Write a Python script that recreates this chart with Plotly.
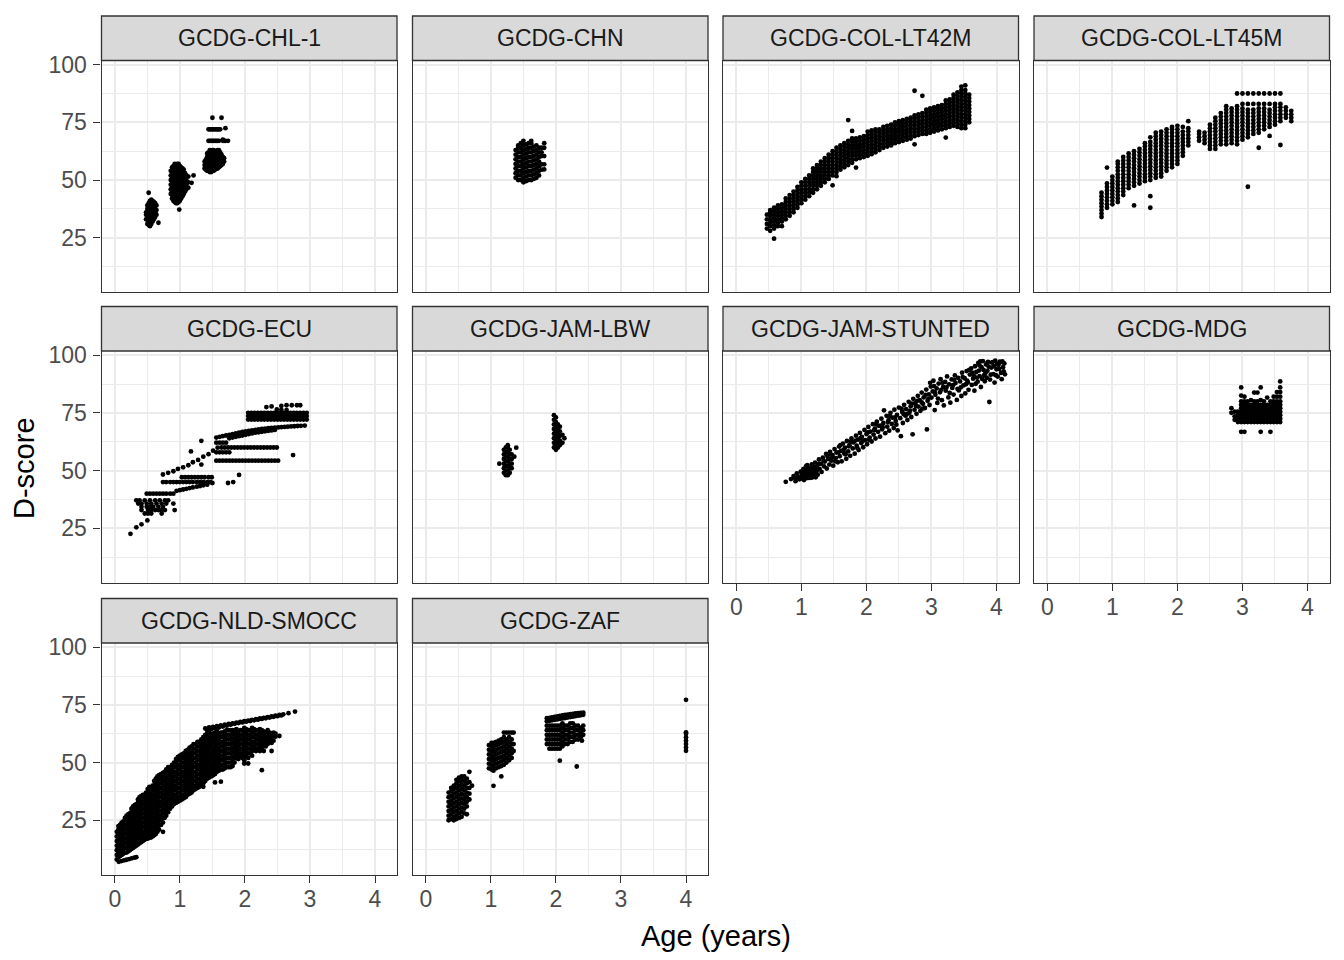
import plotly.graph_objects as go

# ---------------- labels / scales ----------------
PANEL_NAMES = ["GCDG-CHL-1", "GCDG-CHN", "GCDG-COL-LT42M", "GCDG-COL-LT45M",
               "GCDG-ECU", "GCDG-JAM-LBW", "GCDG-JAM-STUNTED", "GCDG-MDG",
               "GCDG-NLD-SMOCC", "GCDG-ZAF"]
X_TICKS = [0, 1, 2, 3, 4]
X_MINOR = [0.5, 1.5, 2.5, 3.5]
Y_TICKS = [25, 50, 75, 100]
Y_MINOR = [12.5, 37.5, 62.5, 87.5]
X_TITLE = "Age (years)"
Y_TITLE = "D-score"

# ---------------- data ----------------
# (age, [D-scores]) columns
CHL1 = [
    (0.48, [33, 35, 36]),
    (0.50, [31, 33, 34.5, 36, 37.5, 39]),
    (0.52, [30.5, 32, 34, 35.5, 37, 38.5, 40, 44.5]),
    (0.54, [30, 31.5, 33, 35, 36.5, 38, 39.5, 41]),
    (0.56, [31, 32.5, 34, 36, 37.5, 39, 40.5, 41.5]),
    (0.58, [32, 34, 35.5, 37, 38.5, 40, 41]),
    (0.60, [33, 35, 36.5, 38, 39.5, 40.5]),
    (0.62, [34, 36, 37.5, 39, 40]),
    (0.64, [35, 37, 39]),
    (0.67, [31.5]),
    (0.86, [44, 46, 48, 50, 52, 54]),
    (0.88, [42, 43.5, 45, 46.5, 48, 49.5, 51, 52.5, 54, 55.5]),
    (0.90, [41, 42.5, 44, 45.5, 47, 48.5, 50, 51.5, 53, 54.5, 56]),
    (0.92, [40.5, 42, 43.5, 45, 46.5, 48, 49.5, 51, 52.5, 54, 55.5, 57]),
    (0.94, [40, 41.5, 43, 44.5, 46, 47.5, 49, 50.5, 52, 53.5, 55, 56.5]),
    (0.96, [40, 41.5, 43, 44.5, 46, 47.5, 49, 50.5, 52, 53.5, 55, 56.5, 57]),
    (0.98, [40.5, 42, 43.5, 45, 46.5, 48, 49.5, 51, 52.5, 54, 55.5, 57]),
    (0.99, [37.2]),
    (1.00, [41, 42.5, 44, 45.5, 47, 48.5, 50, 51.5, 53, 54.5, 56]),
    (1.02, [42, 43.5, 45, 46.5, 48, 49.5, 51, 52.5, 54, 55.5]),
    (1.04, [43, 44.5, 46, 47.5, 49, 50.5, 52, 53.5, 55]),
    (1.06, [44, 45.5, 47, 48.5, 50, 51.5, 53, 54.5]),
    (1.08, [45, 47, 48.5, 50, 51.5, 53]),
    (1.10, [46, 48, 50, 52]),
    (1.13, [46.7, 49, 51.5]),
    (1.18, [48.8]),
    (1.21, [52]),
    (1.38, [55, 56.5, 58]),
    (1.40, [54.5, 56, 57.5, 59]),
    (1.42, [54, 55.5, 57, 58.5, 60, 61.5]),
    (1.44, [54, 55.5, 57, 58.5, 60, 62, 67, 72]),
    (1.46, [53.5, 55, 56.5, 58, 59.5, 61, 63, 67, 72]),
    (1.48, [53.5, 55, 56.5, 58, 59.5, 61, 62.5, 67, 72]),
    (1.50, [54, 55.5, 57, 58.5, 60, 61.5, 63, 67, 72, 77]),
    (1.52, [54, 55.5, 57, 58.5, 60, 61.5, 63, 67, 72]),
    (1.54, [54.5, 56, 57.5, 59, 60.5, 62, 67, 72]),
    (1.56, [55, 56.5, 58, 59.5, 61, 62.5, 67, 72]),
    (1.58, [55, 56.5, 58, 59.5, 61, 63, 67, 72]),
    (1.60, [55.5, 57, 58.5, 60, 61.5, 63, 67, 72]),
    (1.62, [56, 57.5, 59, 60.5, 62, 72]),
    (1.64, [56.5, 58, 59.5, 61, 77]),
    (1.66, [57, 58.5, 60, 67, 67.5]),
    (1.68, [58, 59.5, 67]),
    (1.70, [72.5, 67]),
    (1.74, [67]),
]

CHN = [
    (1.38, [51, 53, 55, 57, 59, 61, 63]),
    (1.42, [50, 52, 54, 56, 58, 60, 62, 64, 65]),
    (1.46, [50, 52, 54, 56, 58, 60, 62, 64, 66]),
    (1.50, [49, 51, 53, 55, 57, 59, 61, 63, 65, 67]),
    (1.54, [49.5, 51.5, 53.5, 55.5, 57.5, 59.5, 61.5, 63.5, 65.5]),
    (1.58, [50, 52, 54, 56, 58, 60, 62, 64, 66]),
    (1.62, [50, 52, 54, 56, 58, 60, 62, 64, 66, 67]),
    (1.66, [50.5, 52.5, 54.5, 56.5, 58.5, 60.5, 62.5, 64.5]),
    (1.70, [51, 53, 55, 57, 59, 61, 63, 65]),
    (1.74, [52, 54, 56, 58, 60, 62, 64]),
    (1.78, [54.5, 56.8, 60.4, 62, 64]),
    (1.82, [54.6, 56.8, 60.4, 64, 66]),
]

COL42 = [
    (0.47, [29, 31, 33, 35]),
    (0.52, [28, 30, 31.5, 33, 34.5, 36, 37]),
    (0.58, [24.6, 29, 30.5, 32, 33.5, 35, 36.5, 38]),
    (0.64, [30, 31.5, 33, 34.5, 36, 37.5, 39]),
    (0.70, [30, 32, 33.5, 35, 36.5, 38, 39.5]),
    (0.76, [33, 34.5, 36, 37.5, 39, 40.5, 42]),
    (0.82, [34.5, 36, 37.5, 39, 40.5, 42, 43.5]),
    (0.88, [36, 37.5, 39, 40.5, 42, 43.5, 45]),
    (0.94, [38, 39.5, 41, 42.5, 44, 45.5, 47]),
    (1.00, [40, 41.5, 43, 44.5, 46, 47.5, 49]),
    (1.06, [41.5, 43, 44.5, 46, 47.5, 49, 50.5]),
    (1.12, [43, 44.5, 46, 47.5, 49, 50.5, 52]),
    (1.18, [44.5, 46, 47.5, 49, 50.5, 52, 53.5, 55]),
    (1.24, [46, 47.5, 49, 50.5, 52, 53.5, 55, 56.5]),
    (1.30, [47.5, 49, 50.5, 52, 53.5, 55, 56.5, 58]),
    (1.36, [49, 50.5, 52, 53.5, 55, 56.5, 58, 59.5]),
    (1.42, [50.5, 52, 53.5, 55, 56.5, 58, 59.5, 61]),
    (1.48, [47.7, 52, 53.5, 55, 56.5, 58, 59.5, 61, 62.5]),
    (1.54, [51.7, 53.5, 55, 56.5, 58, 59.5, 61, 62.5, 64]),
    (1.60, [54.5, 56, 57.5, 59, 60.5, 62, 63.5, 65]),
    (1.66, [55.5, 57, 58.5, 60, 61.5, 63, 64.5, 66]),
    (1.72, [56.5, 58, 59.5, 61, 62.5, 64, 65.5, 67, 76]),
    (1.78, [57.5, 59, 60.5, 62, 63.5, 65, 66.5, 68, 71.3]),
    (1.84, [55.4, 59, 60.5, 62, 63.5, 65, 66.5, 68]),
    (1.90, [59.5, 61, 62.5, 64, 65.5, 67, 68.5]),
    (1.96, [60, 61.5, 63, 64.5, 66, 67.5, 69]),
    (2.02, [60.5, 62, 63.5, 65, 66.5, 68, 69.5, 71]),
    (2.08, [61.2, 62.5, 64, 65.5, 67, 68.5, 70, 71.5]),
    (2.14, [62, 63.5, 65, 66.5, 68, 69.5, 71, 72]),
    (2.20, [63, 64.5, 66, 67.5, 69, 70.5, 72]),
    (2.26, [64, 65.5, 67, 68.5, 70, 71.5, 73]),
    (2.32, [64.5, 66, 67.5, 69, 70.5, 72, 73.5]),
    (2.38, [65, 66.5, 68, 69.5, 71, 72.5, 74]),
    (2.44, [66, 67.5, 69, 70.5, 72, 73.5, 75]),
    (2.50, [66.5, 68, 69.5, 71, 72.5, 74, 75.5]),
    (2.56, [67, 68.5, 70, 71.5, 73, 74.5, 76]),
    (2.62, [67.5, 69, 70.5, 72, 73.5, 75, 76.5]),
    (2.68, [68, 69.5, 71, 72.5, 74, 75.5, 77]),
    (2.74, [65.5, 69, 70.5, 72, 73.5, 75, 76.5, 78, 88.7]),
    (2.80, [69.5, 71, 72.5, 74, 75.5, 77, 78.5]),
    (2.86, [70, 71.5, 73, 74.5, 76, 77.5, 79, 86.5]),
    (2.92, [70, 71.5, 73, 74.5, 76, 77.5, 79, 80.5]),
    (2.98, [70.5, 72, 73.5, 75, 76.5, 78, 79.5, 81]),
    (3.04, [71, 72.5, 74, 75.5, 77, 78.5, 80, 81.5]),
    (3.10, [71.5, 73, 74.5, 76, 77.5, 79, 80.5, 82]),
    (3.16, [72, 73.5, 75, 76.5, 78, 79.5, 81, 82.5]),
    (3.22, [68.4, 72.5, 74, 75.5, 77, 78.5, 80, 81.5, 83, 84.5]),
    (3.28, [73, 74.5, 76, 77.5, 79, 80.5, 82, 83.5, 85]),
    (3.34, [73.5, 75, 76.5, 78, 79.5, 81, 82.5, 84, 85.5, 87]),
    (3.40, [73, 74.5, 76, 77.5, 79, 80.5, 82, 83.5, 85, 86.5, 88]),
    (3.46, [72.5, 74, 75.5, 77, 78.5, 80, 81.5, 83, 84.5, 86, 87.5, 89, 90.5]),
    (3.52, [72.5, 74, 75.5, 77, 78.5, 80, 81.5, 83, 84.5, 86, 87.5, 89, 91]),
    (3.58, [75, 76.5, 78, 79.5, 81, 82.5, 84, 85.5, 87]),
]

COL45 = [
    (0.833, [34, 35.5, 37, 38.5, 40, 41.5, 43, 44.5]),
    (0.917, [38, 39.5, 41, 42.5, 44, 45.5, 47, 48.5, 55.4]),
    (1.000, [39.5, 41, 42.5, 44, 45.5, 47, 48.5, 50, 51.5]),
    (1.083, [40.5, 42, 43.5, 45, 46.5, 48, 49.5, 51, 52.5, 54, 55.5, 57, 58]),
    (1.167, [43.5, 45, 46.5, 48, 49.5, 51, 52.5, 54, 55.5, 57, 58.5, 60]),
    (1.250, [46.5, 48, 49.5, 51, 52.5, 54, 55.5, 57, 58.5, 60, 61.5]),
    (1.333, [39, 47.5, 49, 50.5, 52, 53.5, 55, 56.5, 58, 59.5, 61, 62.5]),
    (1.417, [48.5, 50, 51.5, 53, 54.5, 56, 57.5, 59, 60.5, 62, 63.5]),
    (1.500, [49.5, 51, 52.5, 54, 55.5, 57, 58.5, 60, 61.5, 63, 64.5, 66]),
    (1.583, [38, 43, 50, 51.5, 53, 54.5, 56, 57.5, 59, 60.5, 62, 63.5, 65, 66.5, 68.5]),
    (1.667, [51, 52.5, 54, 55.5, 57, 58.5, 60, 61.5, 63, 64.5, 66, 67.5, 69, 70.5]),
    (1.750, [51.5, 53, 54.5, 56, 57.5, 59, 60.5, 62, 63.5, 65, 66.5, 68, 69.5, 71]),
    (1.833, [54, 55.5, 57, 58.5, 60, 61.5, 63, 64.5, 66, 67.5, 69, 70.5, 72]),
    (1.917, [55.5, 57, 58.5, 60, 61.5, 63, 64.5, 66, 67.5, 69, 70.5, 72, 73]),
    (2.000, [57, 58.5, 60, 61.5, 63, 64.5, 66, 67.5, 69, 70.5, 72, 73.5]),
    (2.083, [60.5, 62, 63.5, 65, 66.5, 68, 69.5, 71, 73]),
    (2.167, [65, 66.5, 68, 69.5, 71, 72.5, 75.5]),
    (2.333, [67, 68.5, 70, 71]),
    (2.417, [66, 67.5, 69, 70.5]),
    (2.500, [63.5, 65, 66.5, 68, 69.5, 71, 72.5, 74]),
    (2.583, [63.5, 65, 66.5, 68, 69.5, 71, 72.5, 74, 75.5, 77]),
    (2.667, [65.5, 67, 68.5, 70, 71.5, 73, 74.5, 76, 77.5, 79]),
    (2.750, [65.5, 67, 68.5, 70, 71.5, 73, 74.5, 76, 77.5, 79, 80.5, 82]),
    (2.833, [66, 67.5, 69, 70.5, 72, 73.5, 75, 76.5, 78, 79.5, 81]),
    (2.917, [65.5, 67, 68.5, 70, 71.5, 73, 74.5, 76, 77.5, 79, 80.5, 82, 87.5]),
    (3.000, [67.5, 69, 70.5, 72, 73.5, 75, 76.5, 78, 79.5, 81, 83, 87.5]),
    (3.083, [47.1, 68.5, 70, 71.5, 73, 74.5, 76, 77.5, 79, 80.5, 83, 87.5]),
    (3.167, [70, 71.5, 73, 74.5, 76, 77.5, 79, 80.5, 83, 87.5]),
    (3.250, [64, 70.5, 72, 73.5, 75, 76.5, 78, 79.5, 81, 83, 87.5]),
    (3.333, [72, 73.5, 75, 76.5, 78, 79.5, 81, 83, 87.5]),
    (3.417, [69.1, 73, 74.5, 76, 77.5, 79, 80.5, 83, 87.5]),
    (3.500, [74, 75.5, 77, 78.5, 80, 81.5, 83, 87.5]),
    (3.583, [65.2, 75.5, 77, 78.5, 80, 81.5, 83, 87.5]),
    (3.667, [77, 78.5, 80, 81.5]),
    (3.750, [75.5, 77, 78.5, 80]),
]

# ECU is organised in rows: (D-score, [ages])
ECU_ROWS = [
    (37.1, [0.33, 0.38, 0.46, 0.54, 0.62, 0.69, 0.77, 0.82]),
    (35.7, [0.36, 0.41, 0.49, 0.56, 0.64, 0.72, 0.79, 0.90]),
    (34.3, [0.41, 0.49, 0.54, 0.59, 0.67, 0.74]),
    (32.9, [0.41, 0.51, 0.56, 0.62, 0.67, 0.72, 0.77, 0.92]),
    (31.4, [0.46, 0.51, 0.56, 0.72]),
    (40.0, [0.49, 0.54, 0.59, 0.64, 0.69, 0.74, 0.79, 0.85, 0.90]),
    (45.0, [0.74, 0.79, 0.85, 0.90, 0.95, 1.00, 1.05, 1.10, 1.15, 1.20, 1.26, 1.31, 1.36, 1.42, 1.47]),
    (47.1, [1.03, 1.08, 1.13, 1.18, 1.23, 1.28, 1.33, 1.38, 1.44, 1.49]),
    (54.3, [1.56, 1.61, 1.66, 1.71, 1.76, 1.81, 1.86, 1.91, 1.96, 2.01, 2.06, 2.11, 2.16, 2.21,
            2.26, 2.31, 2.36, 2.41, 2.46, 2.51]),
    (60.0, [1.64, 1.69, 1.74, 1.79, 1.84, 1.89, 1.94, 1.99, 2.04, 2.09, 2.14, 2.19, 2.24, 2.29,
            2.34, 2.39, 2.44, 2.49]),
    (57.9, [1.56, 1.61, 1.66, 1.71, 1.76]),
    (62.1, [1.56, 1.61, 1.66, 1.71]),
    (75.0, [2.05, 2.10, 2.15, 2.20, 2.25, 2.30, 2.35, 2.40, 2.45, 2.50, 2.55, 2.60, 2.65, 2.70,
            2.75, 2.80, 2.85, 2.90, 2.95]),
    (73.6, [2.05, 2.10, 2.15, 2.20, 2.25, 2.30, 2.35, 2.40, 2.45, 2.50, 2.55, 2.60, 2.65, 2.70,
            2.75, 2.80, 2.85, 2.90, 2.95]),
    (72.1, [2.05, 2.10, 2.15, 2.20, 2.25, 2.30, 2.35, 2.40, 2.45, 2.50, 2.55, 2.60, 2.65, 2.70,
            2.75, 2.80, 2.85, 2.90, 2.95]),
]
ECU_POINTS = [
    (0.24, 22.6), (0.33, 25.4), (0.41, 26.7), (0.50, 28.4),
    (0.95, 41.2), (1.00, 41.5), (1.05, 41.8), (1.10, 42.1), (1.15, 42.4), (1.20, 42.7),
    (1.26, 43.0), (1.31, 43.3), (1.36, 43.6), (1.42, 43.9),
    (0.74, 48.3), (0.82, 49.0), (0.90, 49.7), (0.97, 50.7), (1.05, 51.4), (1.13, 52.3),
    (1.20, 53.6), (1.28, 54.6), (1.36, 56.0), (1.44, 57.1), (1.51, 58.6), (1.58, 59.9),
    (1.17, 58.3), (1.33, 62.9), (1.33, 52.6), (1.50, 44.6), (1.74, 44.6), (1.82, 45.0),
    (1.91, 48.1), (2.74, 56.7),
    (1.56, 64.3), (1.61, 64.6), (1.66, 64.9), (1.71, 65.2), (1.76, 65.5), (1.81, 65.8),
    (1.86, 66.1), (1.91, 66.4), (1.96, 66.7), (2.01, 67.0), (2.06, 67.2), (2.11, 67.4),
    (2.16, 67.6), (2.21, 67.8), (2.26, 68.0), (2.31, 68.2), (2.36, 68.4), (2.41, 68.5),
    (2.46, 68.6), (2.51, 68.7), (2.56, 68.8), (2.61, 68.9), (2.66, 69.0), (2.71, 69.1),
    (2.76, 69.2), (2.81, 69.3), (2.86, 69.4), (2.92, 69.5),
    (1.76, 64.0), (1.81, 64.3), (1.86, 64.6), (1.91, 64.9), (1.96, 65.2), (2.01, 65.5),
    (2.06, 65.8), (2.11, 66.1), (2.16, 66.4), (2.21, 66.6), (2.26, 66.8), (2.31, 67.0),
    (2.36, 67.2), (2.41, 67.4), (2.46, 67.6),
    (2.33, 77.5), (2.41, 77.8), (2.56, 78.0), (2.64, 78.3), (2.72, 78.3), (2.80, 78.3),
    (2.85, 78.3), (2.49, 76.5), (2.56, 76.3), (2.64, 76.2),
]

JAMLBW = [
    (1.13, [53]),
    (1.20, [49, 51, 53, 55, 57, 59]),
    (1.23, [48, 50, 52, 54, 56, 58, 60]),
    (1.26, [48, 50, 52, 54, 56, 58, 60, 61]),
    (1.29, [49, 51, 53, 55, 57, 59]),
    (1.32, [51, 53, 55, 57]),
    (1.36, [56]),
    (1.39, [59.9]),
    (1.97, [60, 62, 64, 66, 68, 70, 72, 74]),
    (2.00, [59, 61, 63, 65, 67, 69, 71, 73]),
    (2.03, [60, 62, 64, 66, 68, 70]),
    (2.06, [61, 63, 65, 67, 69]),
    (2.10, [62, 65.5]),
    (2.13, [64]),
]

# JAM-STUNTED: individual (age, D-score) points
JAMST = [
    (0.76, 45.1), (0.84, 46.3), (0.88, 47.6), (0.91, 45.4), (0.93, 48.8), (0.97, 46.2),
    (0.99, 49.5), (1.01, 47.3), (1.03, 50.6), (1.04, 45.9), (1.06, 48.1), (1.07, 51.8),
    (1.09, 47.0), (1.11, 49.6), (1.12, 46.8), (1.13, 50.9), (1.15, 48.3), (1.16, 52.7),
    (1.18, 47.9), (1.19, 50.2), (1.21, 53.4), (1.22, 49.0), (1.24, 51.6), (1.25, 48.2),
    (1.27, 54.8), (1.28, 50.7), (1.30, 52.9), (1.31, 49.4), (1.33, 55.6), (1.35, 51.8),
    (1.36, 53.9), (1.38, 57.2), (1.39, 50.9), (1.41, 55.0), (1.43, 52.6), (1.44, 58.1),
    (1.46, 54.3), (1.48, 56.7), (1.49, 52.1), (1.51, 59.3), (1.53, 55.4), (1.54, 57.8),
    (1.56, 53.6), (1.58, 60.4), (1.59, 56.2), (1.61, 58.5), (1.62, 54.0), (1.64, 61.7),
    (1.66, 57.4), (1.67, 59.9), (1.69, 55.1), (1.70, 62.8), (1.72, 58.3), (1.74, 61.0),
    (1.75, 56.4), (1.77, 63.9), (1.79, 59.6), (1.80, 62.2), (1.82, 57.3), (1.84, 65.1),
    (1.85, 60.8), (1.87, 63.4), (1.88, 58.9), (1.90, 66.3), (1.92, 61.9), (1.93, 64.6),
    (1.95, 60.1), (1.97, 67.6), (1.98, 63.2), (2.00, 65.8), (2.01, 61.4), (2.03, 68.9),
    (2.05, 64.3), (2.06, 66.9), (2.08, 62.6), (2.10, 70.1), (2.11, 65.6), (2.13, 68.2),
    (2.14, 63.9), (2.16, 71.2), (2.18, 66.8), (2.19, 69.4), (2.21, 64.7), (2.23, 72.5),
    (2.24, 67.9), (2.26, 70.6), (2.27, 76.1), (2.29, 66.2), (2.31, 73.7), (2.32, 69.0),
    (2.34, 71.8), (2.35, 67.3), (2.37, 75.0), (2.39, 70.2), (2.40, 72.9), (2.42, 68.4),
    (2.43, 76.4), (2.45, 71.5), (2.47, 74.1), (2.48, 67.4), (2.50, 77.3), (2.52, 72.7),
    (2.53, 64.9), (2.55, 75.4), (2.56, 70.6), (2.58, 78.5), (2.60, 73.8), (2.61, 76.6),
    (2.63, 71.9), (2.65, 79.8), (2.66, 75.0), (2.68, 77.9), (2.69, 73.2), (2.71, 65.7),
    (2.72, 81.1), (2.74, 76.3), (2.75, 79.2), (2.77, 74.6), (2.79, 82.4), (2.80, 77.7),
    (2.82, 80.5), (2.83, 75.9), (2.85, 83.8), (2.87, 78.9), (2.88, 81.7), (2.90, 77.1),
    (2.92, 85.1), (2.93, 67.8), (2.94, 80.2), (2.96, 83.0), (2.97, 78.4), (2.99, 86.4),
    (3.00, 81.6), (3.02, 84.3), (3.03, 88.9), (3.05, 76.2), (3.06, 82.8), (3.08, 85.6),
    (3.09, 79.3), (3.11, 87.7), (3.13, 83.9), (3.14, 89.6), (3.16, 80.5), (3.18, 86.2),
    (3.19, 78.2), (3.21, 88.4), (3.22, 84.6), (3.24, 90.8), (3.26, 81.7), (3.27, 87.3),
    (3.29, 79.4), (3.31, 89.5), (3.32, 85.8), (3.34, 82.9), (3.36, 91.2), (3.37, 87.9),
    (3.39, 80.6), (3.41, 90.1), (3.42, 84.7), (3.44, 88.6), (3.46, 82.3), (3.47, 92.4),
    (3.49, 86.9), (3.51, 90.0), (3.52, 83.4), (3.54, 93.1), (3.56, 88.2), (3.57, 85.0),
    (3.59, 91.6), (3.61, 94.3), (3.62, 87.1), (3.64, 89.8), (3.66, 84.6), (3.67, 95.2),
    (3.69, 92.7), (3.71, 88.5), (3.72, 96.6), (3.74, 90.9), (3.76, 86.2), (3.77, 94.8),
    (3.79, 97.4), (3.81, 91.3), (3.82, 88.7), (3.84, 95.9), (3.86, 93.2), (3.87, 97.1),
    (3.89, 79.7), (3.90, 89.4), (3.92, 94.6), (3.93, 96.8), (3.95, 91.8), (3.97, 88.1),
    (3.98, 97.6), (4.00, 93.9), (4.02, 90.7), (4.03, 95.7), (4.05, 97.2), (4.07, 92.3),
    (4.08, 89.6), (4.10, 94.8), (4.12, 96.4), (4.13, 91.7), (3.74, 95.5), (3.80, 93.6),
    (3.96, 95.2), (4.06, 96.9), (3.70, 90.3), (3.85, 90.2), (3.33, 87.0), (3.45, 86.0),
    (3.55, 89.0), (3.65, 91.0), (3.15, 85.0), (3.05, 84.0), (2.95, 81.0), (2.85, 79.5),
    (1.05, 48.6), (1.15, 50.5), (1.02, 49.0), (1.10, 51.3), (1.20, 51.5), (1.26, 52.8),
    (1.34, 54.1), (1.40, 56.3), (1.47, 55.5), (1.57, 57.9), (1.65, 59.0), (1.73, 60.5),
    (1.83, 63.0), (1.91, 64.0), (2.02, 66.5), (2.12, 67.5), (2.22, 69.5), (2.33, 71.0),
    (2.44, 73.0), (2.57, 74.5), (2.67, 76.0), (2.76, 78.0),
    (1.00, 47.8), (1.02, 46.4), (1.04, 48.9), (1.06, 50.2), (1.08, 46.7), (1.10, 48.9),
    (1.12, 47.6), (1.14, 49.8), (1.16, 46.9), (1.18, 51.4), (1.20, 49.3), (1.22, 47.1),
    (1.24, 50.0), (1.09, 52.3), (0.95, 47.2), (0.90, 46.8),
    (1.45, 57.0), (1.52, 54.0), (1.60, 61.0), (1.68, 57.0), (1.76, 62.5), (1.86, 59.8),
    (1.94, 62.7), (2.04, 63.3), (2.15, 70.0), (2.25, 68.8), (2.36, 73.6), (2.46, 69.9),
    (2.54, 76.8), (2.62, 74.4), (2.70, 79.0), (2.78, 80.2), (2.86, 76.8), (2.91, 82.8),
    (2.98, 88.0), (3.04, 86.6), (3.10, 81.2), (3.17, 88.0), (3.23, 86.0), (3.28, 83.6),
    (3.35, 89.3), (3.40, 85.4), (3.48, 90.5), (3.53, 87.4), (3.58, 93.6), (3.63, 92.4),
    (3.68, 87.6), (3.73, 93.3), (3.78, 89.7), (3.83, 92.3), (3.88, 95.0), (3.91, 91.5),
    (3.94, 97.0), (3.99, 91.3), (4.04, 94.0), (4.09, 97.3), (4.11, 93.0), (3.75, 97.3),
    (3.86, 96.6), (4.01, 96.2),
]

MDG = [
    (2.83, [75, 77]),
    (2.88, [72, 73.5, 75.5]),
    (2.93, [71, 72.5, 74, 75.5]),
    (2.98, [66.8, 71, 72.5, 74, 75.5, 77, 78.5, 80, 82.5, 86]),
    (3.03, [66.8, 71, 72.5, 74, 75.5, 77, 78.5, 80, 82]),
    (3.08, [71, 72.5, 74, 75.5, 77, 78.5, 80]),
    (3.13, [71, 72.5, 74, 75.5, 77, 78.5, 80.5]),
    (3.18, [71, 72.5, 74, 75.5, 77, 78.5, 80, 83.8]),
    (3.23, [71, 72.5, 74, 75.5, 77, 78.5, 80, 83.8]),
    (3.28, [66.8, 71, 72.5, 74, 75.5, 77, 78.5, 80.5, 86]),
    (3.33, [71, 72.5, 74, 75.5, 77, 78.5, 80]),
    (3.38, [71, 72.5, 74, 75.5, 77, 78.5, 81.6]),
    (3.43, [66.8, 71, 72.5, 74, 75.5, 77, 78.5, 80]),
    (3.48, [71, 72.5, 74, 75.5, 77, 78.5, 80, 82]),
    (3.53, [71, 72.5, 74, 75.5, 77, 78.5, 80, 82, 84]),
    (3.58, [71, 72.5, 74, 75.5, 77, 78.5, 80, 82, 84, 86, 88.6]),
]

NLD = [
    (0.03, [8, 10, 12, 14, 16, 18, 20]),
    (0.06, [7]), (0.10, [7.3]), (0.14, [7.6]), (0.18, [7.9]), (0.22, [8.2]),
    (0.26, [8.5]), (0.30, [8.8]), (0.33, [9]),
    (0.08, [9.5, 11.5, 13.5, 15.5, 17.5, 19.5, 21.5, 23]),
    (0.13, [10.5, 12.5, 14.5, 16.5, 18.5, 20.5, 22.5, 24.5]),
    (0.18, [11, 13, 15, 17, 19, 21, 23, 25, 27]),
    (0.23, [12, 14, 16, 18, 20, 22, 24, 26, 28]),
    (0.28, [13, 15, 17, 19, 21, 23, 25, 27, 29, 31]),
    (0.33, [14, 16, 18, 20, 22, 24, 26, 28, 30, 32]),
    (0.38, [15, 17, 19, 21, 23, 25, 27, 29, 31, 33, 35]),
    (0.43, [16, 18, 20, 22, 24, 26, 28, 30, 32, 34, 36]),
    (0.48, [17, 19, 21, 23, 25, 27, 29, 31, 33, 35, 37]),
    (0.53, [17.5, 19.5, 21.5, 23.5, 25.5, 27.5, 29.5, 31.5, 33.5, 35.5, 37.5, 39.5]),
    (0.58, [18, 20, 22, 24, 26, 28, 30, 32, 34, 36, 38, 40]),
    (0.63, [19, 21, 23, 25, 27, 29, 31, 33, 35, 37, 39, 41, 43]),
    (0.68, [21, 23, 25, 27, 29, 31, 33, 35, 37, 39, 41, 43, 44.5]),
    (0.74, [20, 24, 26, 28, 30, 32, 34, 36, 38, 40, 42, 44, 45.5]),
    (0.79, [27, 29, 31, 33, 35, 37, 39, 41, 43, 45, 47]),
    (0.85, [30, 32, 34, 36, 38, 40, 42, 44, 46, 48]),
    (0.91, [32, 34, 36, 38, 40, 42, 44, 46, 48, 50]),
    (0.97, [33, 35, 37, 39, 41, 43, 45, 47, 49, 51, 52.5]),
    (1.03, [34, 36, 38, 40, 42, 44, 46, 48, 50, 52, 53.5]),
    (1.09, [35, 37, 39, 41, 43, 45, 47, 49, 51, 53, 55]),
    (1.15, [36.5, 38.5, 40.5, 42.5, 44.5, 46.5, 48.5, 50.5, 52.5, 54.5, 56.5]),
    (1.21, [38, 40, 42, 44, 46, 48, 50, 52, 54, 56, 58]),
    (1.27, [39, 41, 43, 45, 47, 49, 51, 53, 55, 57, 59]),
    (1.33, [40, 42, 44, 46, 48, 50, 52, 54, 56, 58, 60]),
    (1.36, [39.5]),
    (1.39, [42, 44, 46, 48, 50, 52, 54, 56, 58, 60, 62, 64.8]),
    (1.45, [43.5, 45.5, 47.5, 49.5, 51.5, 53.5, 55.5, 57.5, 59.5, 61.5, 63, 65.2]),
    (1.51, [44.5, 46.5, 48.5, 50.5, 52.5, 54.5, 56.5, 58.5, 60.5, 62.5, 65.5]),
    (1.54, [41.4]),
    (1.57, [46, 48, 50, 52, 54, 56, 58, 60, 62, 63.5, 65.8]),
    (1.63, [41.7, 47, 49, 51, 53, 55, 57, 59, 61, 63, 66.1]),
    (1.69, [47.5, 49.5, 51.5, 53.5, 55.5, 57.5, 59.5, 61.5, 63.5, 66.4]),
    (1.75, [48, 50, 52, 54, 56, 58, 60, 62, 64, 66.7]),
    (1.81, [48.5, 50.5, 52.5, 54.5, 56.5, 58.5, 60.5, 62.5, 64, 67]),
    (1.87, [51.8, 53, 55, 57, 59, 61, 63, 64.5, 67.3]),
    (1.93, [52.5, 54, 56, 58, 60, 62, 64, 67.6]),
    (1.99, [49.6, 51, 53, 55, 57, 59, 61, 63, 65, 67.9]),
    (2.05, [49.6, 52, 54, 56, 58, 60, 62, 64, 68.2]),
    (2.11, [53, 55, 57, 59, 61, 63, 65, 68.5]),
    (2.17, [55, 56, 58, 60, 62, 64, 68.8]),
    (2.23, [55, 57, 59, 61, 63, 64.5, 69.1]),
    (2.26, [46.7]),
    (2.29, [55, 57.5, 59.5, 61.5, 63.5, 69.4]),
    (2.35, [58, 60, 62, 64, 69.7]),
    (2.41, [55, 58.5, 60.5, 62.5, 70]),
    (2.47, [61.2, 62.5, 70.3]),
    (2.53, [61.5, 70.6]),
    (2.59, [70.9]),
    (2.67, [71.4]),
    (2.77, [72.1]),
]
# extra NLD-SMOCC columns read between the ones above (the band is solid black)
NLD_MID = [
    (0.055, [9, 11, 13, 15, 17, 19, 21, 22.5]),
    (0.105, [10, 12, 14, 16, 18, 20, 22, 24]),
    (0.155, [11, 13, 15, 17, 19, 21, 23, 25, 26]),
    (0.205, [11.5, 13.5, 15.5, 17.5, 19.5, 21.5, 23.5, 25.5, 27.5]),
    (0.255, [12.5, 14.5, 16.5, 18.5, 20.5, 22.5, 24.5, 26.5, 28.5, 30]),
    (0.305, [13.5, 15.5, 17.5, 19.5, 21.5, 23.5, 25.5, 27.5, 29.5, 31.5]),
    (0.355, [14.5, 16.5, 18.5, 20.5, 22.5, 24.5, 26.5, 28.5, 30.5, 32.5, 34]),
    (0.405, [15.5, 17.5, 19.5, 21.5, 23.5, 25.5, 27.5, 29.5, 31.5, 33.5, 35.5]),
    (0.455, [16.5, 18, 20, 22, 24, 26, 28, 30, 32, 34, 36]),
    (0.505, [17, 18.5, 20.5, 22.5, 24.5, 26.5, 28.5, 30.5, 32.5, 34.5, 36.5, 38.5]),
    (0.555, [17.5, 19, 21, 23, 25, 27, 29, 31, 33, 35, 37, 39]),
    (0.605, [18.5, 20, 22, 24, 26, 28, 30, 32, 34, 36, 38, 40, 42]),
    (0.655, [20, 22, 24, 26, 28, 30, 32, 34, 36, 38, 40, 42, 44]),
    (0.71, [23, 25, 27, 29, 31, 33, 35, 37, 39, 41, 43, 45]),
    (0.765, [26, 28, 30, 32, 34, 36, 38, 40, 42, 44, 46]),
    (0.82, [28.5, 30.5, 32.5, 34.5, 36.5, 38.5, 40.5, 42.5, 44.5, 46.5, 48]),
    (0.88, [31, 33, 35, 37, 39, 41, 43, 45, 47, 49]),
    (0.94, [32.5, 34, 36, 38, 40, 42, 44, 46, 48, 50, 51.5]),
    (1.00, [33.5, 35, 37, 39, 41, 43, 45, 47, 49, 51, 53]),
    (1.06, [34.5, 36, 38, 40, 42, 44, 46, 48, 50, 52, 54]),
    (1.12, [36, 37.5, 39.5, 41.5, 43.5, 45.5, 47.5, 49.5, 51.5, 53.5, 55.5]),
    (1.18, [37, 39, 41, 43, 45, 47, 49, 51, 53, 55, 57]),
    (1.24, [38.5, 40, 42, 44, 46, 48, 50, 52, 54, 56, 58]),
    (1.30, [39.5, 41, 43, 45, 47, 49, 51, 53, 55, 57, 59]),
    (1.36, [41, 43, 45, 47, 49, 51, 53, 55, 57, 59, 61]),
    (1.42, [43, 45, 47, 49, 51, 53, 55, 57, 59, 61, 62.5]),
    (1.48, [44, 46, 48, 50, 52, 54, 56, 58, 60, 62]),
    (1.54, [45, 47, 49, 51, 53, 55, 57, 59, 61, 63]),
    (1.60, [46.5, 48.5, 50.5, 52.5, 54.5, 56.5, 58.5, 60.5, 62.5]),
    (1.66, [47, 49, 51, 53, 55, 57, 59, 61, 63]),
    (1.72, [48, 50, 52, 54, 56, 58, 60, 62, 64]),
    (1.78, [48, 50, 52, 54, 56, 58, 60, 62, 64]),
    (1.84, [50, 52, 54, 56, 58, 60, 62, 64]),
    (1.90, [51.5, 53.5, 55.5, 57.5, 59.5, 61.5, 63.5]),
    (1.96, [52, 54, 56, 58, 60, 62, 64]),
    (2.02, [52.5, 54.5, 56.5, 58.5, 60.5, 62.5, 64.5]),
    (2.08, [54, 56, 58, 60, 62, 64]),
    (2.14, [55.5, 57, 59, 61, 63, 64.5]),
    (2.20, [56, 58, 60, 62, 64]),
    (2.26, [56, 58, 60, 62, 64]),
    (2.32, [57, 59, 61, 63]),
    (2.38, [59, 61, 63]),
    (2.44, [59.5, 61.5, 63]),
]
NLD_STREAK = [
    (1.42, 64.0), (1.48, 64.4), (1.54, 64.8), (1.60, 65.2), (1.66, 65.6), (1.72, 66.0),
    (1.78, 66.4), (1.84, 66.8), (1.90, 67.1), (1.96, 67.4), (2.02, 67.7), (2.08, 68.0),
    (2.14, 68.3), (2.20, 68.6), (2.26, 68.9), (2.32, 69.2), (2.38, 69.5), (2.44, 69.8),
    (2.50, 70.1), (2.56, 70.4),
]

ZAF = [
    (0.35, [25, 27, 29, 31, 33, 35, 37]),
    (0.39, [25.5, 27.5, 29.5, 31.5, 33.5, 35.5, 37.5, 39]),
    (0.43, [25, 26.5, 28.5, 30.5, 32.5, 34.5, 36.5, 38.5, 40]),
    (0.47, [25.5, 27, 29, 31, 33, 35, 37, 39, 41, 42.5]),
    (0.51, [26, 28, 30, 32, 34, 36, 38, 40, 42, 43.5]),
    (0.55, [26.5, 28.5, 30.5, 32.5, 34.5, 36.5, 38.5, 40.5, 42.5, 44]),
    (0.59, [28, 30, 32, 34, 36, 38, 40, 42, 44]),
    (0.63, [27.6, 31, 33, 35, 37, 39, 41, 43]),
    (0.67, [34, 36.5, 39, 41.5, 46]),
    (0.71, [40]),
    (0.97, [47.5, 49.5, 51.5, 53.5, 55.5, 57.5]),
    (1.01, [47, 49, 51, 53, 55, 57, 58.5]),
    (1.04, [39.9, 46.5, 48.5, 50.5, 52.5, 54.5, 56.5, 58.5]),
    (1.08, [47.5, 49.5, 51.5, 53.5, 55.5, 57.5, 59]),
    (1.12, [48, 50, 52, 54, 56, 58, 59.5]),
    (1.16, [44, 48.5, 50.5, 52.5, 54.5, 56.5, 58.5, 60]),
    (1.20, [49, 51, 53, 55, 57, 59, 61, 63]),
    (1.24, [50, 52, 54, 56, 58, 60, 63]),
    (1.28, [51, 53, 55, 57, 59, 61, 63]),
    (1.32, [52, 54, 56, 58, 60, 63]),
    (1.35, [55, 58, 63]),
    (1.86, [58, 60, 62, 64, 66, 67.9, 69.2]),
    (1.90, [56, 58, 60, 62, 64, 66, 68.1, 69.4]),
    (1.94, [56, 58, 60, 62, 64, 66, 68.3, 69.6]),
    (1.98, [56, 58, 60, 62, 64, 66, 68.5, 69.8]),
    (2.02, [56, 58, 60, 62, 64, 66, 68.7, 70.0]),
    (2.06, [50.8, 56, 58, 60, 62, 64, 66, 68.9, 70.2]),
    (2.10, [57, 59, 61, 63, 65, 67, 69.1, 70.4]),
    (2.14, [58, 60, 62, 64, 66, 69.3, 70.6]),
    (2.18, [58, 60, 62, 64, 66, 69.5, 70.8]),
    (2.22, [59, 61, 63, 65, 67, 69.7, 71.0]),
    (2.26, [59, 61, 63, 65, 67, 69.9, 71.1]),
    (2.30, [60, 62, 64, 66, 70.1, 71.3]),
    (2.32, [48.3]),
    (2.34, [60, 62, 64, 66, 70.3, 71.4]),
    (2.38, [61, 63, 65, 70.5, 71.5]),
    (2.40, [59.5]),
    (2.42, [62, 64, 66, 70.7, 71.6]),
    (4.00, [55.1, 56.5, 58, 59.5, 61, 62.5, 63.1, 77.2]),
]


def from_cols(cols):
    xs, ys = [], []
    for a, ds in cols:
        for d in ds:
            xs.append(a)
            ys.append(d)
    return xs, ys


def from_rows(rows):
    xs, ys = [], []
    for d, ages in rows:
        for a in ages:
            xs.append(a)
            ys.append(d)
    return xs, ys


def from_pts(pts):
    return [p[0] for p in pts], [p[1] for p in pts]


def join(*parts):
    xs, ys = [], []
    for px, py in parts:
        xs += px
        ys += py
    return xs, ys


PANEL_DATA = [
    from_cols(CHL1),
    from_cols(CHN),
    from_cols(COL42),
    from_cols(COL45),
    join(from_rows(ECU_ROWS), from_pts(ECU_POINTS)),
    from_cols(JAMLBW),
    from_pts(JAMST),
    from_cols(MDG),
    join(from_cols(NLD), from_cols(NLD_MID), from_pts(NLD_STREAK)),
    from_cols(ZAF),
]

# ---------------- layout geometry (pixels) ----------------
W, H = 1344, 960
COL_L = [101.5, 412.5, 723.0, 1034.0]
PW = 295.5
ROW_T = [60.5, 351.0, 643.0]
PH = 231.5
STRIP_H = 44.5
BOTTOM_IN_COL = {0: 8, 1: 9, 2: 6, 3: 7}

FONT = "Liberation Sans, Arial, Helvetica, sans-serif"
GRID = "#EBEBEB"
DARK = "#333333"

fig = go.Figure()
shapes, annotations = [], []
layout_axes = {}

for i, name in enumerate(PANEL_NAMES):
    r, c = divmod(i, 4)
    k = i + 1
    xs, ys = PANEL_DATA[i]
    fig.add_trace(go.Scatter(
        x=xs, y=ys, mode="markers", xaxis=f"x{k}", yaxis=f"y{k}",
        marker=dict(color="black", size=4.8, line=dict(width=0)),
        hoverinfo="skip", showlegend=False, cliponaxis=False))

    l = COL_L[c]
    t = ROW_T[r]
    x0, x1 = l / W, (l + PW) / W
    y0, y1 = 1 - (t + PH) / H, 1 - t / H
    show_x = BOTTOM_IN_COL[c] == i
    show_y = c == 0
    xa = dict(domain=[x0, x1], anchor=f"y{k}", range=[-0.205, 4.338],
              tickmode="array", tickvals=X_TICKS, ticktext=[str(v) for v in X_TICKS],
              showgrid=True, gridcolor=GRID, gridwidth=1.8,
              minor=dict(tickvals=X_MINOR, showgrid=True, gridcolor=GRID, gridwidth=0.9),
              zeroline=False, showline=True, mirror=True, linecolor=DARK, linewidth=1.3,
              ticks="outside" if show_x else "", ticklen=7, tickwidth=1.3, tickcolor=DARK,
              showticklabels=show_x, ticklabelstandoff=-3, automargin=False,
              tickfont=dict(family=FONT, size=23, color="#4D4D4D"), fixedrange=True)
    ya = dict(domain=[y0, y1], anchor=f"x{k}", range=[1.5, 101.8],
              tickmode="array", tickvals=Y_TICKS, ticktext=[str(v) for v in Y_TICKS],
              showgrid=True, gridcolor=GRID, gridwidth=1.8,
              minor=dict(tickvals=Y_MINOR, showgrid=True, gridcolor=GRID, gridwidth=0.9),
              zeroline=False, showline=True, mirror=True, linecolor=DARK, linewidth=1.3,
              ticks="outside" if show_y else "", ticklen=7, tickwidth=1.3, tickcolor=DARK,
              showticklabels=show_y, ticklabelstandoff=2, automargin=False,
              tickfont=dict(family=FONT, size=23, color="#4D4D4D"), fixedrange=True)
    layout_axes["xaxis" if k == 1 else f"xaxis{k}"] = xa
    layout_axes["yaxis" if k == 1 else f"yaxis{k}"] = ya

    # facet strip
    st = t - STRIP_H
    shapes.append(dict(type="rect", xref="paper", yref="paper",
                       x0=x0, x1=x1, y0=1 - t / H, y1=1 - st / H,
                       fillcolor="#D9D9D9", line=dict(color=DARK, width=1.3), layer="above"))
    annotations.append(dict(text=name, xref="paper", yref="paper",
                            x=(l + PW / 2) / W, y=1 - (st + STRIP_H / 2) / H,
                            xanchor="center", yanchor="middle", showarrow=False,
                            font=dict(family=FONT, size=23, color="#1A1A1A")))

annotations.append(dict(text=X_TITLE, xref="paper", yref="paper",
                        x=715.5 / W, y=1 - 936 / H, xanchor="center", yanchor="middle",
                        showarrow=False, font=dict(family=FONT, size=29, color="black")))
annotations.append(dict(text=Y_TITLE, xref="paper", yref="paper",
                        x=24 / W, y=1 - 468 / H, xanchor="center", yanchor="middle",
                        textangle=-90, showarrow=False,
                        font=dict(family=FONT, size=29, color="black")))

fig.update_layout(width=W, height=H, margin=dict(l=0, r=0, t=0, b=0, pad=0),
                  plot_bgcolor="white", paper_bgcolor="white", showlegend=False,
                  shapes=shapes, annotations=annotations, **layout_axes)

PIN_PAGE = ("document.documentElement.style.overflow='hidden';"
            "document.body.style.margin='0';document.body.style.overflow='hidden';"
            "var g=document.getElementById('{plot_id}');"
            "g.style.position='fixed';g.style.left='0px';g.style.top='0px';")

fig.write_html("out.html", config={"displayModeBar": False, "responsive": False},
               post_script=PIN_PAGE)
